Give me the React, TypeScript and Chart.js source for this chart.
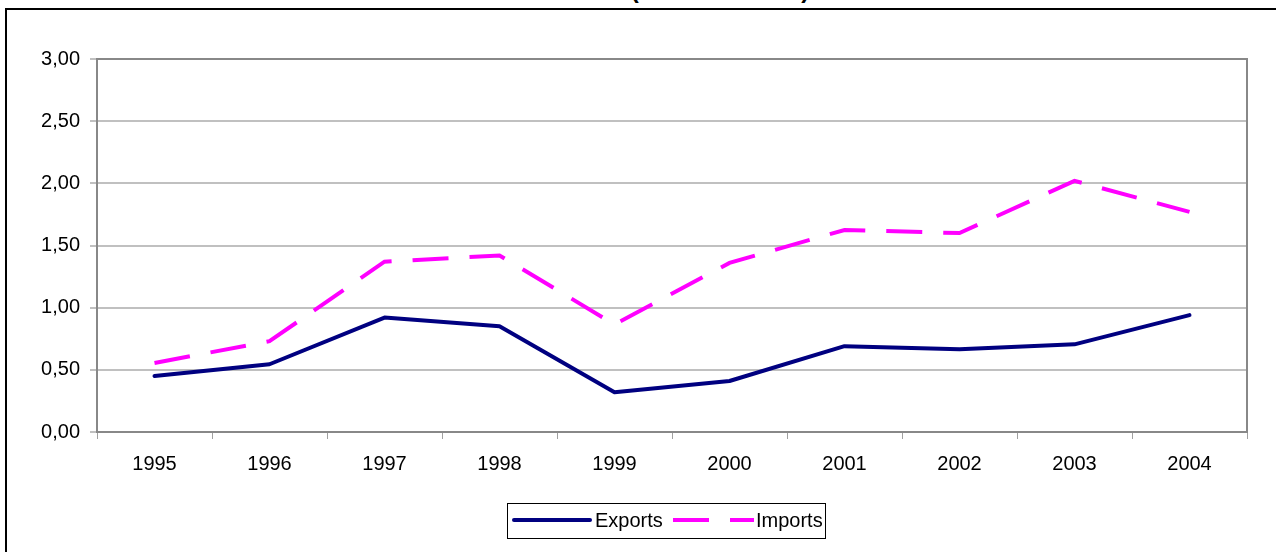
import React, { useEffect, useRef } from "react";
import { Chart, registerables } from "chart.js";

Chart.register(...registerables);

const years = ["1995", "1996", "1997", "1998", "1999", "2000", "2001", "2002", "2003", "2004"];
const exportsValues = [0.45, 0.545, 0.92, 0.85, 0.32, 0.41, 0.69, 0.665, 0.705, 0.94];
const importsValues = [0.555, 0.73, 1.37, 1.42, 0.865, 1.36, 1.625, 1.6, 2.02, 1.77];
const yTickValues = [0, 0.5, 1, 1.5, 2, 2.5, 3];
const titleText = "(in million EUR)";

const FONT = "'Liberation Sans', Arial, sans-serif";

const frameAndLegend = {
  id: "frameAndLegend",
  beforeDatasetsDraw(chart: any) {
    const { ctx, chartArea } = chart;
    ctx.save();
    ctx.strokeStyle = "#888888";
    ctx.lineWidth = 2;
    ctx.strokeRect(chartArea.left, chartArea.top, chartArea.right - chartArea.left, chartArea.bottom - chartArea.top);
    ctx.restore();
  },
  afterDraw(chart: any) {
    const { ctx } = chart;
    const ds = chart.data.datasets;
    ctx.save();
    ctx.strokeStyle = "#000000";
    ctx.lineWidth = 1;
    ctx.strokeRect(507.5, 503.5, 318, 35);
    ctx.font = `20px ${FONT}`;
    ctx.textBaseline = "middle";
    ctx.fillStyle = "#000000";
    ctx.strokeStyle = ds[0].borderColor;
    ctx.lineWidth = 4;
    ctx.lineCap = "round";
    ctx.beginPath();
    ctx.moveTo(514, 520);
    ctx.lineTo(590, 520);
    ctx.stroke();
    ctx.fillText(ds[0].label, 595, 521);
    ctx.strokeStyle = ds[1].borderColor;
    ctx.lineCap = "butt";
    ctx.setLineDash([36, 21]);
    ctx.beginPath();
    ctx.moveTo(673, 520);
    ctx.lineTo(754, 520);
    ctx.stroke();
    ctx.setLineDash([]);
    ctx.fillText(ds[1].label, 756, 521);
    ctx.restore();
  },
};

export default function App() {
  const canvasRef = useRef<HTMLCanvasElement | null>(null);

  useEffect(() => {
    if (!canvasRef.current) return;
    const chart = new Chart(canvasRef.current, {
      type: "line",
      data: {
        labels: years,
        datasets: [
          {
            label: "Exports",
            data: exportsValues,
            borderColor: "#000080",
            backgroundColor: "#000080",
            borderWidth: 4,
            pointRadius: 0,
            tension: 0,
            borderJoinStyle: "round",
            borderCapStyle: "round",
          },
          {
            label: "Imports",
            data: importsValues,
            borderColor: "#FF00FF",
            backgroundColor: "#FF00FF",
            borderWidth: 4,
            pointRadius: 0,
            tension: 0,
            borderDash: [36, 21],
            borderCapStyle: "butt",
          },
        ],
      },
      options: {
        animation: false,
        responsive: false,
        devicePixelRatio: 1,
        layout: { padding: { top: 59, right: 29, bottom: 0, left: 0 } },
        plugins: {
          legend: { display: false },
          title: { display: false },
          tooltip: { enabled: false },
        },
        scales: {
          x: {
            type: "category",
            offset: true,
            grid: {
              offset: true,
              drawOnChartArea: false,
              drawTicks: true,
              tickLength: 7,
              color: "#A0A0A0",
              lineWidth: 1,
            },
            border: { display: true, color: "#888888", width: 2 },
            ticks: {
              color: "#000000",
              font: { family: FONT, size: 20 },
              padding: 13,
              maxRotation: 0,
              autoSkip: false,
            },
            afterFit: (scale: any) => {
              scale.height = 120;
            },
          },
          y: {
            min: 0,
            max: 3,
            afterBuildTicks: (scale: any) => {
              scale.ticks = yTickValues.map((v) => ({ value: v }));
            },
            grid: {
              color: "#C0C0C0",
              lineWidth: 2,
              tickLength: 7,
              drawTicks: true,
            },
            border: { display: true, color: "#888888", width: 2 },
            ticks: {
              color: "#000000",
              font: { family: FONT, size: 20 },
              padding: 10,
              callback: (v: any) => Number(v).toFixed(2).replace(".", ","),
            },
            afterFit: (scale: any) => {
              scale.width = 97;
            },
          },
        },
      },
      plugins: [frameAndLegend],
    } as any);
    return () => chart.destroy();
  }, []);

  return (
    <div
      style={{
        position: "fixed",
        left: 0,
        top: 0,
        width: 1276,
        height: 552,
        overflow: "hidden",
        background: "#ffffff",
      }}
    >
      <div
        style={{
          position: "absolute",
          left: 5,
          top: 8,
          width: 1400,
          height: 700,
          border: "2px solid #000000",
          boxSizing: "border-box",
        }}
      />
      <div
        style={{
          position: "absolute",
          left: 520,
          top: -22,
          width: 400,
          textAlign: "center",
          fontFamily: FONT,
          fontWeight: "bold",
          fontSize: 24,
          lineHeight: "24px",
          color: "#000000",
          whiteSpace: "nowrap",
        }}
      >
        {titleText}
      </div>
      <canvas
        ref={canvasRef}
        width={1276}
        height={552}
        style={{ position: "absolute", left: 0, top: 0, width: 1276, height: 552 }}
      />
    </div>
  );
}
